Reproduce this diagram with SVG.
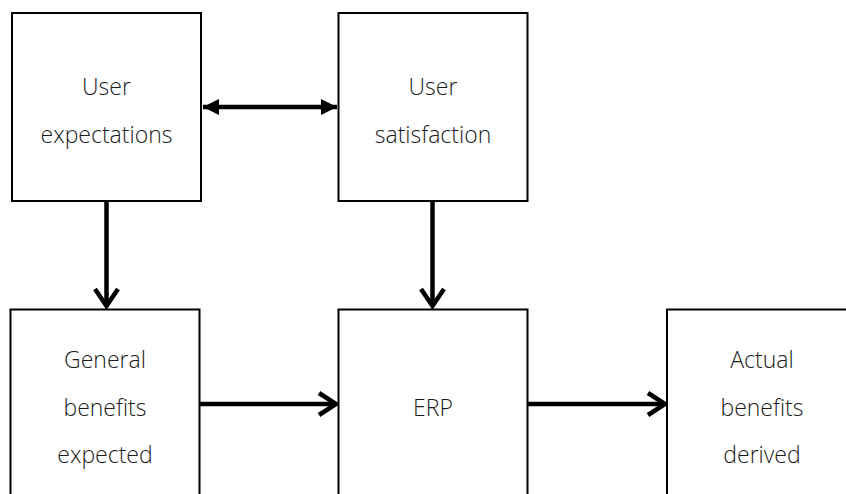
<svg xmlns="http://www.w3.org/2000/svg" width="846" height="494" viewBox="0 0 846 494">
<style>
.box{fill:#fff;stroke:#000;stroke-width:2}
.t{font-family:"Open Sans","Noto Sans","Liberation Sans",sans-serif;font-weight:300;font-size:23px;fill:#1a1a1a;text-anchor:middle}
.ln{fill:none;stroke:#000;stroke-width:4.5}
.hd{fill:none;stroke:#000;stroke-width:4.5;stroke-linejoin:miter}
</style>
<defs>
<marker id="tri" viewBox="0 0 16 16" refX="16" refY="8" markerWidth="16" markerHeight="16" markerUnits="userSpaceOnUse" orient="auto-start-reverse">
<path d="M0,0 L16,8 L0,16 Z" fill="#000"/>
</marker>
</defs>
<rect width="846" height="494" fill="#fff"/>
<g id="connectors">
<line class="ln" x1="203" y1="107" x2="337" y2="107" stroke-width="4" marker-start="url(#tri)" marker-end="url(#tri)"/>
<line class="ln" x1="106.5" y1="202" x2="106.5" y2="305"/>
<polyline class="hd" points="95,289 106.5,306 118,289"/>
<line class="ln" x1="432.5" y1="202" x2="432.5" y2="305"/>
<polyline class="hd" points="421,289 432.5,306 444,289"/>
<line class="ln" x1="200" y1="404" x2="335" y2="404"/>
<polyline class="hd" points="319,393 336,404 319,415"/>
<line class="ln" x1="528" y1="404" x2="664" y2="404"/>
<polyline class="hd" points="648,393 665,404 648,415"/>
</g>
<g id="user-expectations">
<rect class="box" x="12" y="13" width="189" height="188"/>
<text class="t" x="106.5" y="95">User</text>
<text class="t" x="106.5" y="143">expectations</text>
</g>
<g id="user-satisfaction">
<rect class="box" x="338.5" y="13" width="189" height="188"/>
<text class="t" x="433" y="95">User</text>
<text class="t" x="433" y="143">satisfaction</text>
</g>
<g id="general-benefits">
<rect class="box" x="10.5" y="309.5" width="189" height="200"/>
<text class="t" x="105" y="368">General</text>
<text class="t" x="105" y="416">benefits</text>
<text class="t" x="105" y="463">expected</text>
</g>
<g id="erp">
<rect class="box" x="338.5" y="309.5" width="189" height="200"/>
<text class="t" x="433" y="416">ERP</text>
</g>
<g id="actual-benefits">
<rect class="box" x="667" y="309.5" width="200" height="200"/>
<text class="t" x="762" y="368">Actual</text>
<text class="t" x="762" y="416">benefits</text>
<text class="t" x="762" y="463">derived</text>
</g>
</svg>
